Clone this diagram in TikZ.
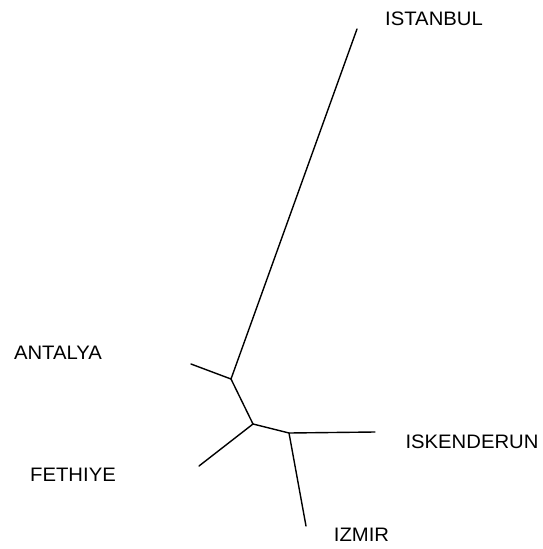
\documentclass[tikz,border=0pt]{standalone}
\usepackage{fontspec}
\setmainfont{Liberation Sans}
\begin{document}
\begin{tikzpicture}[x=1pt,y=-1pt,
  branch/.style={line width=1.4pt,line cap=round},
  taxon/.style={inner sep=0pt,font=\fontsize{19.5}{21}\selectfont,text=black,xscale=1.04}]
\useasboundingbox (0,0) rectangle (542,549);
\coordinate (A) at (231,379);
\coordinate (B) at (253,424);
\coordinate (C) at (289,433);
\coordinate (tI) at (357,29);
\coordinate (tA) at (191,364);
\coordinate (tF) at (199,466);
\coordinate (tK) at (375,432);
\coordinate (tZ) at (306,526);
\draw[branch] (tI) -- (A) -- (tA);
\draw[branch] (A) -- (B) -- (tF);
\draw[branch] (B) -- (C) -- (tK);
\draw[branch] (C) -- (tZ);
\node[taxon] (istanbul) at (434,18.5) {ISTANBUL};
\node[taxon] (antalya) at (58,353) {ANTALYA};
\node[taxon] (fethiye) at (73,475) {FETHIYE};
\node[taxon] (iskenderun) at (472,441.5) {ISKENDERUN};
\node[taxon] (izmir) at (361.5,535) {IZMIR};
\end{tikzpicture}
\end{document}
